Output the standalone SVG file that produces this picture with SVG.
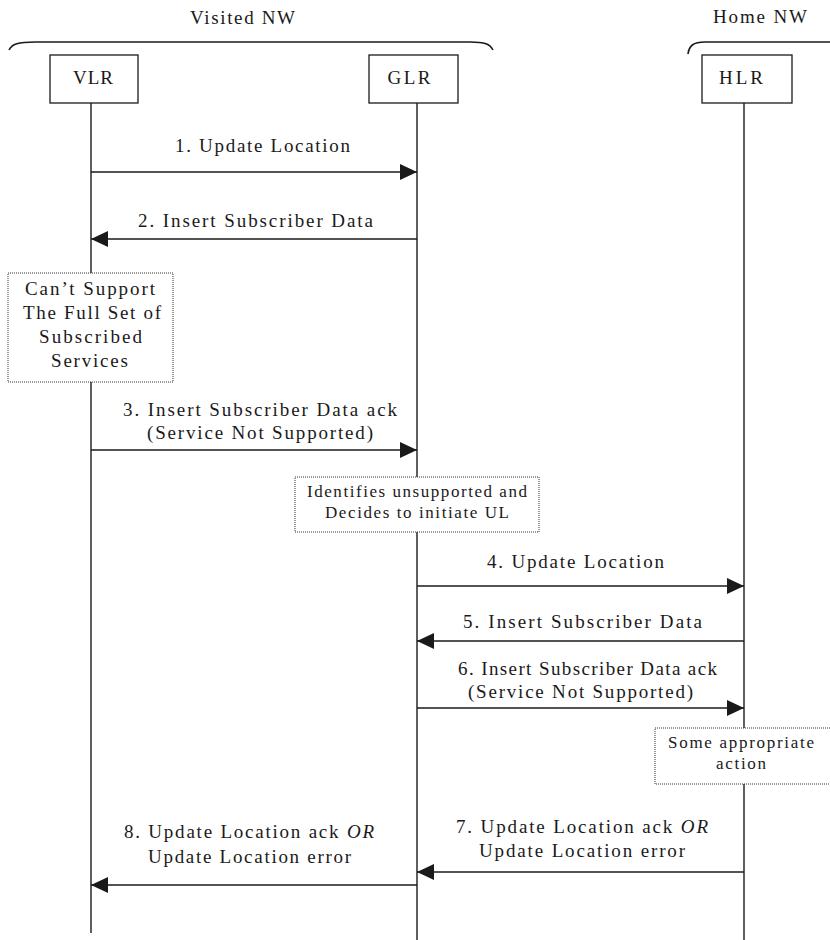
<svg xmlns="http://www.w3.org/2000/svg" width="830" height="940" viewBox="0 0 830 940">
<style>
text{font-family:"Liberation Serif","Times New Roman",serif;font-size:19px;fill:#1a1a1a;text-anchor:middle}
.sm{font-size:17px}
.box{fill:#fff;stroke:#1a1a1a;stroke-width:1.3}
.note{fill:#fff;stroke:#333;stroke-width:1;stroke-dasharray:1 1}
.life{stroke:#1a1a1a;stroke-width:1.4;fill:none}
.msg{stroke:#1a1a1a;stroke-width:1.6;fill:none;marker-end:url(#ah)}
.brace{stroke:#1a1a1a;stroke-width:1.6;fill:none}
</style>
<defs>
<marker id="ah" viewBox="0 0 17 16" refX="17" refY="8" markerWidth="17" markerHeight="16" markerUnits="userSpaceOnUse" orient="auto">
<path d="M0,0 L17,8 L0,16 z" fill="#1a1a1a"/>
</marker>
</defs>

<g id="domains">
<text x="242.5" y="24" textLength="105" lengthAdjust="spacing">Visited NW</text>
<path class="brace" d="M9,50 C12,44 18,42 35,42 L470,42 C485,42 490,44 493,50"/>
<text x="760" y="23" textLength="94" lengthAdjust="spacing">Home NW</text>
<path class="brace" d="M688,54 C689,46 693,42 705,42 L830,42"/>
</g>

<g id="lifelines">
<line class="life" x1="91" y1="103" x2="91" y2="933"/>
<line class="life" x1="417" y1="103" x2="417" y2="940"/>
<line class="life" x1="744" y1="103" x2="744" y2="940"/>
</g>

<g id="VLR">
<rect class="box" x="50" y="55" width="88" height="48"/>
<text x="93" y="84" textLength="40" lengthAdjust="spacing">VLR</text>
</g>
<g id="GLR">
<rect class="box" x="369" y="55" width="89" height="48"/>
<text x="409" y="84" textLength="43" lengthAdjust="spacing">GLR</text>
</g>
<g id="HLR">
<rect class="box" x="702" y="55" width="90" height="48"/>
<text x="741" y="84" textLength="44" lengthAdjust="spacing">HLR</text>
</g>

<g id="connectors">
<line class="msg" x1="91" y1="172" x2="417" y2="172"/>
<line class="msg" x1="417" y1="239" x2="91" y2="239"/>
<line class="msg" x1="91" y1="450" x2="417" y2="450"/>
<line class="msg" x1="417" y1="586" x2="744" y2="586"/>
<line class="msg" x1="744" y1="641" x2="417" y2="641"/>
<line class="msg" x1="417" y1="708" x2="744" y2="708"/>
<line class="msg" x1="744" y1="872" x2="417" y2="872"/>
<line class="msg" x1="417" y1="885" x2="91" y2="885"/>
</g>

<g id="labels">
<text x="262.5" y="152" textLength="175" lengthAdjust="spacing">1. Update Location</text>
<text x="255.5" y="227" textLength="235" lengthAdjust="spacing">2. Insert Subscriber Data</text>
<text x="260" y="416" textLength="274" lengthAdjust="spacing">3. Insert Subscriber Data ack</text>
<text x="260" y="439" textLength="226" lengthAdjust="spacing">(Service Not Supported)</text>
<text x="575.5" y="568" textLength="177" lengthAdjust="spacing">4. Update Location</text>
<text x="582.5" y="628" textLength="239" lengthAdjust="spacing">5. Insert Subscriber Data</text>
<text x="587.5" y="675" textLength="259" lengthAdjust="spacing">6. Insert Subscriber Data ack</text>
<text x="580.5" y="698" textLength="225" lengthAdjust="spacing">(Service Not Supported)</text>
<text x="582" y="833" textLength="252" lengthAdjust="spacing">7. Update Location ack <tspan font-style="italic">OR</tspan></text>
<text x="582" y="857" textLength="206" lengthAdjust="spacing">Update Location error</text>
<text x="249" y="838" textLength="250" lengthAdjust="spacing">8. Update Location ack <tspan font-style="italic">OR</tspan></text>
<text x="249.5" y="863" textLength="203" lengthAdjust="spacing">Update Location error</text>
</g>

<g id="note-vlr">
<rect class="note" x="8" y="273" width="165" height="109"/>
<text x="90" y="295" textLength="130" lengthAdjust="spacing">Can’t Support</text>
<text x="92" y="319" textLength="138" lengthAdjust="spacing">The Full Set of</text>
<text x="90.5" y="343" textLength="103" lengthAdjust="spacing">Subscribed</text>
<text x="89.5" y="367" textLength="77" lengthAdjust="spacing">Services</text>
</g>

<g id="note-glr">
<rect class="note" x="295" y="477" width="244" height="55"/>
<text class="sm" x="417" y="497" textLength="220" lengthAdjust="spacing">Identifies unsupported and</text>
<text class="sm" x="417" y="518" textLength="184" lengthAdjust="spacing">Decides to initiate UL</text>
</g>

<g id="note-hlr">
<rect class="note" x="655" y="728" width="180" height="56"/>
<text class="sm" x="741" y="748" textLength="146" lengthAdjust="spacing">Some appropriate</text>
<text class="sm" x="741" y="769" textLength="50" lengthAdjust="spacing">action</text>
</g>
</svg>
